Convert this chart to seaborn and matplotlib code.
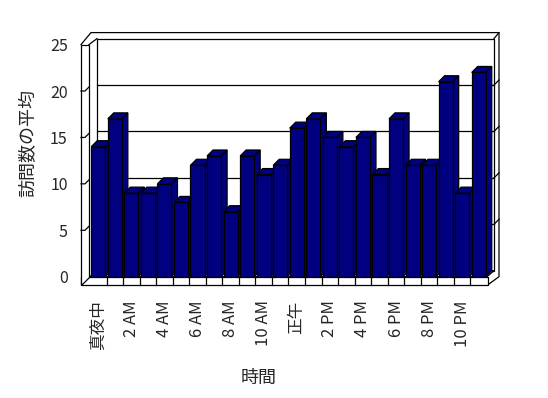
import matplotlib
matplotlib.use('Agg')
import matplotlib.pyplot as plt
import seaborn as sns
import pandas as pd
from matplotlib.patches import Polygon

# 時間ごとの訪問数の平均
hours = ['0時', '1時', '2時', '3時', '4時', '5時', '6時', '7時', '8時', '9時', '10時', '11時',
         '12時', '13時', '14時', '15時', '16時', '17時', '18時', '19時', '20時', '21時', '22時', '23時']
visits = [14, 17, 9, 9, 10, 8, 12, 13, 7, 13, 11, 12,
          16, 17, 15, 14, 15, 11, 17, 12, 12, 21, 9, 22]
tick_labels = ['真夜中', '', '2 AM', '', '4 AM', '', '6 AM', '', '8 AM', '', '10 AM', '',
               '正午', '', '2 PM', '', '4 PM', '', '6 PM', '', '8 PM', '', '10 PM', '']
y_ticks = [0, 5, 10, 15, 20, 25]

sns.set_style('white')
plt.rcParams['font.family'] = ['Noto Sans CJK JP', 'DejaVu Sans']

df = pd.DataFrame({'時間': hours, '訪問数の平均': visits})

fig = plt.figure(figsize=(5.48, 3.98), dpi=100)
ax = fig.add_axes([90 / 548, (398 - 276.7) / 398, 397 / 548, 232.1 / 398])
sns.barplot(data=df, x='時間', y='訪問数の平均', color='#000080', saturation=1,
            width=0.85, edgecolor='black', linewidth=0.9, ax=ax)
ax.set_xlim(-0.5, len(hours) - 0.5)
ax.set_ylim(0, 25)
ax.set_facecolor('none')
sns.despine(ax=ax, left=True, bottom=True)

x0, x1 = ax.get_xlim()
y0, y1 = ax.get_ylim()


def shift(x, y, dx=0, dy=0):
    '''Punt en dades desplaçat dx, dy píxels (dy cap amunt)'''
    d = ax.transData.transform((x, y))
    return tuple(ax.transData.inverted().transform((d[0] + dx, d[1] + dy)))


def line(pts, z=5):
    xs, ys = zip(*pts)
    ax.plot(xs, ys, color='black', lw=0.9, clip_on=False, zorder=z,
            solid_capstyle='projecting')


wall = (7, 6)    # profunditat de la paret del fons
depth = (6, 6)   # profunditat de les barres

# paret del fons
back = [shift(x0, y0, *wall), shift(x1, y0, *wall), shift(x1, y1, *wall), shift(x0, y1, *wall)]
ax.add_patch(Polygon(back, closed=True, fc='white', ec='black', lw=0.9,
                     clip_on=False, zorder=0.5))
for t in y_ticks[1:-1]:
    line([shift(x0, t, *wall), shift(x1, t, *wall)], z=0.6)
    # marques a la paret dreta
    line([shift(x1, t, *wall), shift(x1, t, wall[0] + 5, wall[1] + 5)], z=0.6)

# marc exterior
line([shift(x0, y1, -9, 0), shift(x0, y1, 1, 12), shift(x1, y1, 12, 12),
      shift(x1, y0, 12, 0), shift(x1, y0, 1, -8)], z=0.7)
line([shift(x1, y1, *wall), shift(x1, y1, 12, 12)], z=0.7)
line([shift(x0, y1, -1, 0), shift(x0, y1, *wall)], z=0.7)

# terra
floor = [shift(x0, y0), shift(x1, y0), shift(x1, y0, *wall), shift(x0, y0, *wall)]
ax.add_patch(Polygon(floor, closed=True, fc='white', ec='black', lw=0.9,
                     clip_on=False, zorder=1))
ax.add_patch(Polygon([shift(x0, y0, -9, 0), shift(x1, y0, 1, 0), shift(x1, y0, 1, -8),
                      shift(x0, y0, -9, -8)], closed=True, fc='white', ec='black',
                     lw=0.9, clip_on=False, zorder=4))
for k in range(1, len(hours)):
    line([shift(k - 0.5, y0), shift(k - 0.5, y0, 0, -8)], z=4.5)

# paret esquerra
ax.add_patch(Polygon([shift(x0, y0, -9, -8), shift(x0, y1, -9, 0), shift(x0, y1, -1, 0),
                      shift(x0, y0, -1, 0)], closed=True, fc='white', ec='black',
                     lw=0.9, clip_on=False, zorder=4))
for t in y_ticks[1:-1]:
    line([shift(x0, t, -9, 0), shift(x0, t, -5, 0), shift(x0, t, -1, 4)], z=4.5)

# cares laterals i superiors de les barres
for bar in ax.patches[:len(visits)]:
    bx, by = bar.get_x(), bar.get_y()
    bw, bh = bar.get_width(), bar.get_height()
    side = [shift(bx + bw, by), shift(bx + bw, by + bh),
            shift(bx + bw, by + bh, *depth), shift(bx + bw, by, *depth)]
    top = [shift(bx, by + bh), shift(bx + bw, by + bh),
           shift(bx + bw, by + bh, *depth), shift(bx, by + bh, *depth)]
    for face in (side, top):
        ax.add_patch(Polygon(face, closed=True, fc='#000080', ec='black', lw=0.9,
                             clip_on=False, zorder=2))
    bar.set_zorder(3)

ax.set_yticks(y_ticks)
ax.set_yticklabels([str(t) for t in y_ticks], fontsize=11.5)
ax.set_xticks(range(len(hours)))
ax.set_xticklabels(tick_labels, rotation=90, fontsize=12, va='top')
ax.tick_params(axis='y', length=0, pad=16)
ax.tick_params(axis='x', length=0, pad=17)
ax.set_xlabel('時間', fontsize=13)
ax.set_ylabel('訪問数の平均', fontsize=13)
ax.xaxis.set_label_coords(0.426, -0.398)
ax.yaxis.set_label_coords(-0.1335, 0.576)
ax.grid(False)

fig.savefig('out.png', dpi=100)
